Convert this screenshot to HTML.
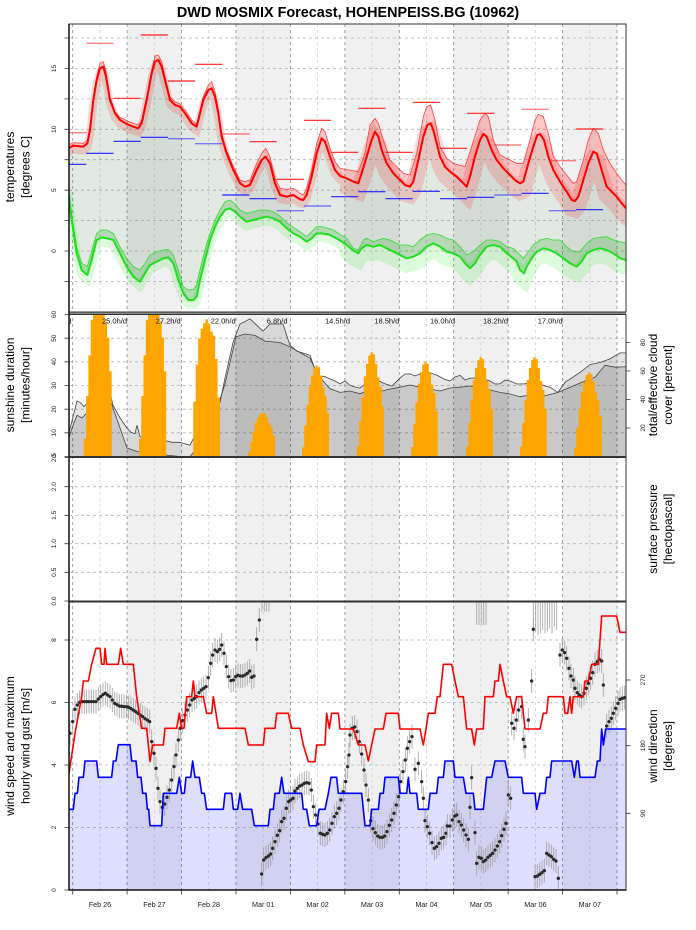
<!DOCTYPE html>
<html><head><meta charset="utf-8">
<style>
html,body{margin:0;padding:0;background:#fff;}
svg{display:block;font-family:"Liberation Sans",Arial,sans-serif;}
</style></head>
<body>
<svg width="696" height="930" viewBox="0 0 696 930" xmlns="http://www.w3.org/2000/svg">
<defs>
 <clipPath id="c1"><rect x="69" y="24" width="557" height="288"/></clipPath>
 <clipPath id="c2"><rect x="69" y="314" width="557" height="142.5"/></clipPath>
 <clipPath id="c4"><rect x="69" y="602" width="557" height="288"/></clipPath>
 <clipPath id="cL"><rect x="60" y="0" width="280" height="930"/></clipPath>
 <clipPath id="cR"><rect x="340" y="0" width="300" height="930"/></clipPath>

 <polygon id="uRT" points="150,445 205,445 220,437 250,440 262,430 270,390 280,300 290,240 300,205 310,200 318,230 330,300 345,340 360,360 380,372 400,380 415,385 425,370 440,300 455,220 465,185 475,180 485,200 500,260 510,300 525,315 540,320 555,340 575,370 590,380 600,340 610,300 625,270 635,265 645,290 655,340 665,410 680,460 700,510 720,550 735,560 750,555 770,510 785,480 797,470 810,490 825,550 840,585 860,590 880,585 900,598 910,600 920,585 935,530 950,460 965,415 975,425 990,470 1005,510 1020,528 1040,535 1060,545 1075,550 1085,520 1100,470 1115,420 1125,395 1135,410 1145,450 1160,490 1180,520 1200,540 1215,555 1230,560 1240,545 1255,480 1270,410 1282,375 1292,370 1300,390 1310,430 1320,470 1335,500 1350,515 1370,530 1390,550 1400,560 1410,530 1425,470 1440,420 1450,402 1460,410 1475,450 1490,480 1510,505 1530,525 1545,540 1560,550 1570,545 1585,490 1600,440 1612,405 1620,402 1632,420 1645,470 1660,510 1680,545 1700,575 1715,600 1725,603 1735,590 1750,540 1765,490 1780,455 1790,460 1805,510 1820,560 1835,575 1850,590 1865,610 1878,625 1890,632 1950,632 1950,1000 150,1000"/>
 <polygon id="uRU" points="150,435 205,435 220,428 250,430 262,420 270,380 280,290 290,230 300,190 310,185 318,215 330,290 345,335 360,352 380,362 400,370 415,375 425,360 440,290 455,210 465,168 475,165 485,185 500,250 510,292 525,305 540,312 555,330 575,360 590,372 600,330 610,290 625,255 635,245 645,275 655,330 665,400 680,452 700,500 720,540 735,545 750,540 770,490 785,460 797,445 810,470 825,535 840,565 860,568 880,565 900,580 910,585 920,565 935,510 950,430 965,385 975,395 990,445 1005,485 1020,505 1075,515 1095,460 1110,375 1125,355 1135,370 1150,420 1170,480 1190,500 1210,520 1230,525 1250,460 1270,350 1280,320 1292,315 1305,360 1320,440 1340,475 1360,490 1395,500 1415,440 1440,360 1455,340 1465,350 1480,420 1500,465 1530,480 1550,490 1570,490 1590,420 1605,360 1615,343 1630,350 1645,400 1660,470 1680,500 1700,525 1720,550 1730,545 1750,480 1765,420 1780,385 1795,400 1810,450 1830,490 1850,520 1865,540 1878,555 1890,562 1950,562 1950,1000 150,1000"/>
 <polygon id="uGT" points="150,570 205,570 215,660 230,760 245,810 262,825 275,780 290,720 305,712 320,715 340,720 360,760 380,800 400,830 420,845 435,820 450,795 470,785 490,775 505,772 520,790 535,840 550,880 565,900 580,900 590,890 600,840 615,780 630,720 645,680 660,650 675,630 690,625 705,635 720,650 740,665 760,660 780,655 800,650 820,655 840,665 860,685 880,700 900,710 920,725 935,715 950,700 965,700 985,703 1000,710 1020,721 1040,735 1060,752 1075,760 1085,745 1100,735 1120,740 1140,735 1160,745 1180,755 1200,765 1220,775 1240,770 1260,760 1280,740 1300,730 1320,740 1340,755 1360,760 1380,770 1395,790 1410,805 1425,790 1440,765 1460,740 1480,735 1500,740 1520,760 1540,775 1550,785 1560,810 1572,820 1580,800 1595,775 1610,755 1630,745 1650,750 1670,760 1690,775 1710,790 1730,800 1745,785 1760,760 1780,750 1800,745 1820,750 1840,760 1860,775 1878,780 1890,782 1950,782 1950,1000 150,1000"/>
 <polygon id="uGU" points="150,565 205,565 215,640 230,740 245,790 262,800 275,755 290,700 305,690 320,690 340,700 360,740 380,775 400,800 420,810 435,790 450,765 470,755 490,750 505,748 520,765 535,810 550,860 565,870 580,868 590,855 600,810 615,750 630,700 645,660 660,630 675,605 690,600 705,612 720,630 740,640 760,635 780,630 800,630 820,635 840,648 860,668 880,682 900,695 920,710 935,695 950,680 965,680 985,685 1000,690 1020,703 1040,715 1060,745 1075,750 1090,720 1100,715 1120,725 1150,715 1170,720 1200,735 1220,735 1240,740 1260,720 1280,705 1300,700 1320,705 1340,715 1360,720 1380,740 1400,765 1420,755 1440,735 1460,720 1480,720 1500,725 1520,740 1540,745 1555,760 1570,775 1585,755 1600,735 1620,720 1640,715 1660,720 1680,720 1700,740 1720,755 1740,755 1760,730 1780,715 1800,712 1820,710 1840,720 1860,725 1878,730 1890,731 1950,731 1950,1000 150,1000"/>

 <mask id="mMain" maskUnits="userSpaceOnUse" x="0" y="0" width="696" height="930">
  <g transform="scale(0.333333)"><use href="#uRT" fill="#fff"/><use href="#uGT" fill="#000"/></g>
 </mask>
 <mask id="mRed" maskUnits="userSpaceOnUse" x="0" y="0" width="696" height="930">
  <g transform="scale(0.333333)"><use href="#uRU" fill="#fff"/><use href="#uRT" fill="#000"/></g>
 </mask>
 <mask id="mGreen" maskUnits="userSpaceOnUse" x="0" y="0" width="696" height="930">
  <g transform="scale(0.333333)"><use href="#uGU" fill="#fff"/><use href="#uGT" fill="#000"/></g>
 </mask>

 <polygon id="bell" points="0,0 0,-.1 1,-.1 1,-.34 2,-.34 2,-.57 3,-.57 3,-.77 4,-.77 4,-.89 5,-.89 5,-.97 6,-.97 6,-1 7,-1 7,-.98 8,-.98 8,-.89 9,-.89 9,-.76 10,-.76 10,-.67 11,-.67 11,-.48 12,-.48 12,0"/>
 <polygon id="bell2" points="0,0 0,-.4 1,-.4 1,-.67 2,-.67 2,-.86 3,-.86 3,-.93 4,-.93 4,-.97 5,-.97 5,-1 6,-1 6,-.97 7,-.97 7,-.91 8,-.91 8,-.88 9,-.88 9,-.71 10,-.71 10,-.43 11,-.43 11,0"/>
 <g id="d"><line x1="0" x2="0" y1="-36" y2="36" stroke="#9a9a9a" stroke-width="2.7" stroke-opacity="0.85"/><circle cx="0" cy="0" r="5" fill="#2a2a2a"/></g>
</defs>

<rect x="0" y="0" width="696" height="930" fill="#fff"/>

<!-- day shading -->
<g fill="#f0f0f0">
 <rect x="127.13" y="24" width="54.43" height="866"/>
 <rect x="235.99" y="24" width="54.43" height="866"/>
 <rect x="344.85" y="24" width="54.43" height="866"/>
 <rect x="453.71" y="24" width="54.43" height="866"/>
 <rect x="562.57" y="24" width="54.43" height="866"/>
</g>

<!-- grid -->
<path d="M99.9,24V890M154.33,24V890M208.76,24V890M263.19,24V890M317.62,24V890M372.05,24V890M426.48,24V890M480.91,24V890M535.34,24V890M589.77,24V890" stroke="#cfcfcf" stroke-width="0.8" stroke-dasharray="3,3" fill="none"/>
<path d="M72.7,24V890M127.13,24V890M181.56,24V890M235.99,24V890M290.42,24V890M344.85,24V890M399.28,24V890M453.71,24V890M508.14,24V890M562.57,24V890M617,24V890" stroke="#8c8c8c" stroke-width="0.8" stroke-dasharray="3,3" fill="none"/>
<path d="M69,281.4H626M69,251H626M69,220.6H626M69,190.2H626M69,159.7H626M69,129.3H626M69,98.9H626M69,68.5H626M69,38H626M69,432.8H626M69,409.2H626M69,385.5H626M69,361.8H626M69,338.2H626M69,486.7H626M69,515.3H626M69,543.7H626M69,572.3H626M69,640H626M69,702.5H626M69,765H626M69,827.5H626" stroke="#b4b4b4" stroke-width="0.8" stroke-dasharray="3,3" fill="none"/>

<!-- ===== Panel 1 temperatures ===== -->
<g clip-path="url(#c1)">
 <rect x="60" y="20" width="580" height="300" fill="rgba(60,100,60,0.15)" mask="url(#mMain)"/>
 <rect x="60" y="20" width="580" height="300" fill="rgba(255,0,0,0.22)" mask="url(#mRed)"/>
 <rect x="60" y="20" width="580" height="300" fill="rgba(0,160,0,0.2)" mask="url(#mGreen)"/>
 <g clip-path="url(#cL)"><g transform="scale(0.333333)">
  <use href="#uRT" fill="none" stroke="rgba(255,0,0,0.15)" stroke-width="24" transform="translate(0,12)"/>
  <use href="#uGT" fill="none" stroke="rgba(0,230,0,0.14)" stroke-width="26" transform="translate(0,13)"/>
 </g></g>
 <g clip-path="url(#cR)"><g transform="scale(0.333333)">
  <use href="#uRT" fill="none" stroke="rgba(255,0,0,0.15)" stroke-width="50" transform="translate(0,25)"/>
  <use href="#uGT" fill="none" stroke="rgba(0,230,0,0.14)" stroke-width="44" transform="translate(0,22)"/>
 </g></g>
 <g transform="scale(0.333333)" fill="none" stroke-linejoin="round">
  <use href="#uGU" stroke="#33dd33" stroke-width="2.4"/>
  <use href="#uRU" stroke="#ff4040" stroke-width="2.4"/>
  <use href="#uGT" stroke="#22dd22" stroke-width="6"/>
  <use href="#uRT" stroke="#ff0000" stroke-width="6"/>
 </g>
 <path d="M113.5,98.3H140.7M140.7,35H167.9M167.9,81H195.1M195.1,64.3H222.3M249.5,141.7H276.7M276.7,179.3H303.9M303.9,120.3H331.1M331.1,152.3H358.3M358.3,108.3H385.5M385.5,152.3H412.7M412.7,102.3H439.9M439.9,148.3H467.1M467.1,113.3H494.3M575.9,129H603.1" stroke="#ff2020" stroke-width="1.2" fill="none"/>
 <path d="M69,132.7H86.3M86.3,43.3H113.5M222.3,134H249.5M494.3,145H521.5M521.5,109.3H548.7M548.7,160.7H575.9" stroke="#ff2020" stroke-opacity="0.55" stroke-width="1.4" fill="none"/>
 <path d="M69,164.3H86.3M86.3,153.3H113.5M113.5,141.3H140.7M140.7,137.3H167.9M222.3,195H249.5M249.5,198.7H276.7M331.1,196.7H358.3M358.3,191.7H385.5M385.5,198.7H412.7M412.7,191.3H439.9M439.9,198.7H467.1M467.1,197.3H494.3M521.5,193.3H548.7M575.9,209.7H603.1" stroke="#2020ff" stroke-width="1.2" fill="none"/>
 <path d="M167.9,138.7H195.1M195.1,143.7H222.3M276.7,210.7H303.9M303.9,206H331.1M494.3,195H521.5M548.7,210.7H575.9" stroke="#2020ff" stroke-opacity="0.55" stroke-width="1.4" fill="none"/>
</g>

<!-- ===== Panel 2 sunshine / cloud ===== -->
<g clip-path="url(#c2)">
 <polygon points="69,432.3 72,420.9 77,400.9 80,402.4 84,406.6 90,399.5 100,392.4 108,383.8 113,405.2 120,418 127,428 131,432.3 135,433.7 137,425.2 140,436.6 150,439.4 160,440.8 166,440.8 172,442.3 180,442.3 185,443.7 190,445.1 196,433.7 205,425.2 215,413.8 220,402.4 225,378.1 233,342.5 240,324 250,318.8 257,325.4 263,331.1 270,324 283,324 290,345.4 297,351.1 310,355.3 317,375.3 325,376.7 335,381 340,383.8 345,381 350,385.3 355,387 360,388.1 365,384 370,381.5 375,379 385,383.8 392,386 400,378.1 405,374 410,373.9 415,376 420,373.9 428,372 437,375.3 444,379 450,381 455,377 460,375.3 465,380 470,378.1 480,378 490,381 495,384 500,383.8 505,380 510,381 517,384 525,383.8 532,382 540,383.8 545,386 550,387.2 558,392.4 565,382.4 580,372.4 590,364.6 600,362.5 610,358.9 620,352.9 627,352.9 627,457 69,457" fill="rgba(0,0,0,0.1)" stroke="#444" stroke-width="0.8"/>
 <polygon points="69,438 72,428 77,415.2 82,418 90,409.5 100,399.5 108,392.4 113,408.1 120,428 127,448 135,450.8 140,452.2 150,453.7 166,455.1 180,456.5 190,456.5 196,449.4 210,420.9 220,399.5 225,383.8 236,336.8 245,334 255,335.4 265,341.1 280,342.5 290,346.8 300,352.5 310,358.2 318,375.3 330,388.8 340,392.4 350,391 360,393.8 370,390 380,391.5 390,389 400,387.2 410,385 420,387.2 430,389 440,391 450,388 460,387.2 470,386 480,388.1 490,390 500,392.4 510,394 520,396.7 530,395 540,396.7 548,395 558,392.4 570,387.2 585,381 595,377.3 605,365.3 615,367.2 627,366.7 627,457 69,457" fill="rgba(0,0,0,0.12)" stroke="#444" stroke-width="0.8"/>
 <g fill="#ffa500">
  <use href="#bell" transform="translate(83.7,456.5) scale(2.333,177.5)"/>
  <use href="#bell" transform="translate(139,456.5) scale(2.27,177.5)"/>
  <use href="#bell2" transform="translate(193.3,456.5) scale(2.43,137.3)"/>
  <use href="#bell" transform="translate(248,456.5) scale(2.25,43.8)"/>
  <use href="#bell" transform="translate(302,456.5) scale(2.25,91.1)"/>
  <use href="#bell" transform="translate(357,456.5) scale(2.25,104.1)"/>
  <use href="#bell" transform="translate(411,456.5) scale(2.225,94.7)"/>
  <use href="#bell" transform="translate(466,456.5) scale(2.25,99.4)"/>
  <use href="#bell" transform="translate(520,456.5) scale(2.225,99.4)"/>
  <use href="#bell" transform="translate(574,456.5) scale(2.31,84)"/>
 </g>
</g>

<!-- ===== Panel 4 wind ===== -->
<g clip-path="url(#c4)">
 <g transform="translate(0,600) scale(0.333333)">
  <polygon points="205,628 220,628 225,580 232,580 237,532 250,532 255,483 290,483 295,532 335,532 340,483 348,483 355,434 390,434 395,483 408,483 413,532 423,532 428,580 438,580 442,628 446,628 450,677 485,677 490,580 530,580 538,532 545,580 553,580 558,532 572,532 578,483 585,532 598,532 605,580 613,580 620,628 670,628 675,580 695,580 700,628 713,628 720,580 728,628 755,628 763,677 805,677 810,628 820,628 825,580 838,580 845,532 852,580 905,580 910,628 920,628 928,677 950,677 957,628 975,628 985,580 993,532 1010,532 1015,580 1085,580 1095,677 1110,677 1115,628 1135,628 1140,580 1150,580 1155,532 1195,532 1200,580 1220,580 1225,532 1230,580 1250,580 1255,628 1285,628 1290,580 1310,580 1315,532 1330,532 1335,483 1360,483 1365,532 1390,532 1398,580 1420,580 1425,628 1450,628 1460,532 1475,532 1485,483 1515,483 1525,532 1565,532 1570,580 1605,580 1610,628 1620,580 1635,580 1640,532 1650,532 1655,483 1715,483 1723,532 1730,483 1735,483 1740,532 1785,532 1792,483 1800,483 1805,387 1810,435 1817,387 1890,387 1890,875 205,875" fill="rgba(0,0,255,0.13)"/>
  <path d="M786,-10V35M793,-10V35M800,-10V35M807,-10V35M1430,-10V75M1437,-10V75M1444,-10V75M1451,-10V75M1458,-10V75M1600,-10V100M1607,-10V95M1614,-10V105M1621,-10V100M1628,-10V90M1635,-10V100M1642,-10V95M1649,-10V85M1656,-10V100M1663,-10V80M1670,-10V90" stroke="#9a9a9a" stroke-width="2.7" stroke-opacity="0.85" fill="none"/>
  <g>
   <use href="#d" x="205" y="460"/><use href="#d" x="210" y="400"/><use href="#d" x="218" y="365"/><use href="#d" x="225" y="328"/><use href="#d" x="232" y="315"/><use href="#d" x="239" y="307"/><use href="#d" x="246" y="305"/><use href="#d" x="253" y="305"/><use href="#d" x="260" y="305"/><use href="#d" x="267" y="305"/><use href="#d" x="274" y="305"/><use href="#d" x="281" y="305"/><use href="#d" x="288" y="305"/><use href="#d" x="295" y="297"/><use href="#d" x="302" y="290"/><use href="#d" x="309" y="284"/><use href="#d" x="316" y="280"/><use href="#d" x="323" y="285"/><use href="#d" x="330" y="290"/><use href="#d" x="337" y="300"/><use href="#d" x="344" y="310"/><use href="#d" x="351" y="314"/><use href="#d" x="358" y="318"/><use href="#d" x="365" y="319"/><use href="#d" x="372" y="320"/><use href="#d" x="379" y="320"/><use href="#d" x="386" y="322"/><use href="#d" x="393" y="326"/><use href="#d" x="400" y="330"/><use href="#d" x="407" y="335"/><use href="#d" x="414" y="340"/><use href="#d" x="421" y="345"/><use href="#d" x="428" y="350"/><use href="#d" x="435" y="356"/><use href="#d" x="442" y="360"/><use href="#d" x="449" y="365"/><use href="#d" x="455" y="425"/><use href="#d" x="462" y="460"/><use href="#d" x="468" y="505"/><use href="#d" x="474" y="565"/><use href="#d" x="480" y="605"/><use href="#d" x="487" y="622"/><use href="#d" x="494" y="612"/><use href="#d" x="501" y="592"/><use href="#d" x="508" y="570"/><use href="#d" x="515" y="540"/><use href="#d" x="522" y="500"/><use href="#d" x="528" y="465"/><use href="#d" x="535" y="420"/><use href="#d" x="541" y="385"/><use href="#d" x="548" y="362"/><use href="#d" x="555" y="345"/><use href="#d" x="562" y="330"/><use href="#d" x="569" y="315"/><use href="#d" x="576" y="300"/><use href="#d" x="583" y="295"/><use href="#d" x="590" y="290"/><use href="#d" x="597" y="278"/><use href="#d" x="604" y="270"/><use href="#d" x="611" y="265"/><use href="#d" x="618" y="260"/><use href="#d" x="625" y="233"/><use href="#d" x="632" y="190"/><use href="#d" x="638" y="165"/><use href="#d" x="645" y="150"/><use href="#d" x="652" y="155"/><use href="#d" x="659" y="148"/><use href="#d" x="665" y="135"/><use href="#d" x="672" y="160"/><use href="#d" x="679" y="200"/><use href="#d" x="686" y="230"/><use href="#d" x="693" y="242"/><use href="#d" x="700" y="240"/><use href="#d" x="707" y="230"/><use href="#d" x="714" y="226"/><use href="#d" x="721" y="228"/><use href="#d" x="728" y="228"/><use href="#d" x="735" y="225"/><use href="#d" x="742" y="220"/><use href="#d" x="749" y="213"/><use href="#d" x="755" y="232"/><use href="#d" x="762" y="228"/><use href="#d" x="770" y="118"/><use href="#d" x="778" y="60"/>
   <use href="#d" x="785" y="822"/><use href="#d" x="791" y="780"/><use href="#d" x="798" y="773"/><use href="#d" x="805" y="768"/><use href="#d" x="812" y="762"/><use href="#d" x="818" y="745"/><use href="#d" x="825" y="725"/><use href="#d" x="832" y="706"/><use href="#d" x="839" y="692"/><use href="#d" x="845" y="665"/><use href="#d" x="852" y="655"/><use href="#d" x="859" y="625"/><use href="#d" x="866" y="605"/><use href="#d" x="872" y="600"/><use href="#d" x="879" y="595"/><use href="#d" x="885" y="573"/><use href="#d" x="892" y="565"/><use href="#d" x="899" y="558"/><use href="#d" x="906" y="555"/><use href="#d" x="913" y="550"/><use href="#d" x="920" y="548"/><use href="#d" x="927" y="550"/><use href="#d" x="934" y="570"/><use href="#d" x="940" y="620"/><use href="#d" x="947" y="645"/><use href="#d" x="954" y="672"/><use href="#d" x="961" y="700"/><use href="#d" x="968" y="703"/><use href="#d" x="975" y="705"/><use href="#d" x="982" y="700"/><use href="#d" x="989" y="690"/><use href="#d" x="996" y="670"/><use href="#d" x="1003" y="650"/><use href="#d" x="1010" y="640"/><use href="#d" x="1017" y="625"/><use href="#d" x="1023" y="600"/><use href="#d" x="1030" y="575"/><use href="#d" x="1037" y="545"/><use href="#d" x="1043" y="500"/><use href="#d" x="1047" y="465"/><use href="#d" x="1050" y="405"/><use href="#d" x="1057" y="385"/><use href="#d" x="1064" y="381"/><use href="#d" x="1071" y="395"/><use href="#d" x="1078" y="425"/><use href="#d" x="1085" y="462"/><use href="#d" x="1092" y="510"/><use href="#d" x="1098" y="555"/><use href="#d" x="1105" y="600"/><use href="#d" x="1112" y="662"/><use href="#d" x="1119" y="686"/><use href="#d" x="1126" y="698"/><use href="#d" x="1133" y="708"/><use href="#d" x="1140" y="712"/><use href="#d" x="1147" y="712"/><use href="#d" x="1154" y="708"/><use href="#d" x="1161" y="695"/><use href="#d" x="1168" y="676"/><use href="#d" x="1175" y="660"/><use href="#d" x="1182" y="640"/><use href="#d" x="1189" y="615"/><use href="#d" x="1196" y="590"/><use href="#d" x="1202" y="545"/><use href="#d" x="1209" y="515"/><use href="#d" x="1216" y="480"/><use href="#d" x="1222" y="445"/><use href="#d" x="1229" y="425"/><use href="#d" x="1236" y="410"/><use href="#d" x="1245" y="508"/><use href="#d" x="1255" y="490"/><use href="#d" x="1265" y="545"/><use href="#d" x="1270" y="595"/><use href="#d" x="1275" y="662"/><use href="#d" x="1282" y="680"/><use href="#d" x="1289" y="700"/><use href="#d" x="1296" y="728"/><use href="#d" x="1303" y="745"/><use href="#d" x="1310" y="740"/><use href="#d" x="1317" y="730"/><use href="#d" x="1324" y="715"/><use href="#d" x="1331" y="712"/><use href="#d" x="1338" y="700"/><use href="#d" x="1342" y="678"/><use href="#d" x="1350" y="678"/><use href="#d" x="1357" y="660"/><use href="#d" x="1364" y="648"/><use href="#d" x="1370" y="645"/><use href="#d" x="1377" y="665"/><use href="#d" x="1384" y="675"/><use href="#d" x="1391" y="690"/><use href="#d" x="1398" y="705"/><use href="#d" x="1405" y="718"/><use href="#d" x="1410" y="622"/><use href="#d" x="1415" y="533"/><use href="#d" x="1425" y="698"/><use href="#d" x="1430" y="790"/><use href="#d" x="1437" y="772"/><use href="#d" x="1444" y="775"/><use href="#d" x="1450" y="785"/><use href="#d" x="1457" y="780"/><use href="#d" x="1464" y="772"/><use href="#d" x="1471" y="766"/><use href="#d" x="1478" y="760"/><use href="#d" x="1485" y="750"/><use href="#d" x="1492" y="738"/><use href="#d" x="1499" y="725"/><use href="#d" x="1505" y="707"/><use href="#d" x="1512" y="688"/><use href="#d" x="1518" y="670"/><use href="#d" x="1525" y="585"/><use href="#d" x="1532" y="595"/>
   <use href="#d" x="1535" y="370"/><use href="#d" x="1542" y="385"/><use href="#d" x="1549" y="360"/><use href="#d" x="1556" y="330"/><use href="#d" x="1565" y="320"/><use href="#d" x="1570" y="418"/><use href="#d" x="1575" y="440"/><use href="#d" x="1585" y="360"/><use href="#d" x="1595" y="243"/><use href="#d" x="1600" y="88"/>
   <use href="#d" x="1605" y="830"/><use href="#d" x="1612" y="828"/><use href="#d" x="1619" y="823"/><use href="#d" x="1626" y="818"/><use href="#d" x="1633" y="812"/><use href="#d" x="1640" y="760"/><use href="#d" x="1647" y="765"/><use href="#d" x="1654" y="770"/><use href="#d" x="1661" y="778"/><use href="#d" x="1668" y="783"/><use href="#d" x="1675" y="835"/>
   <use href="#d" x="1680" y="165"/><use href="#d" x="1687" y="150"/><use href="#d" x="1694" y="158"/><use href="#d" x="1700" y="175"/><use href="#d" x="1707" y="205"/><use href="#d" x="1713" y="228"/><use href="#d" x="1720" y="240"/><use href="#d" x="1725" y="265"/><use href="#d" x="1732" y="278"/><use href="#d" x="1738" y="285"/><use href="#d" x="1745" y="290"/><use href="#d" x="1752" y="280"/><use href="#d" x="1759" y="265"/><use href="#d" x="1765" y="250"/><use href="#d" x="1772" y="235"/><use href="#d" x="1778" y="218"/><use href="#d" x="1785" y="193"/><use href="#d" x="1792" y="185"/><use href="#d" x="1798" y="178"/><use href="#d" x="1805" y="183"/><use href="#d" x="1810" y="255"/><use href="#d" x="1820" y="378"/><use href="#d" x="1827" y="365"/><use href="#d" x="1834" y="355"/><use href="#d" x="1840" y="340"/><use href="#d" x="1847" y="325"/><use href="#d" x="1854" y="310"/><use href="#d" x="1860" y="298"/><use href="#d" x="1867" y="295"/><use href="#d" x="1874" y="293"/><use href="#d" x="1881" y="291"/><use href="#d" x="1888" y="290"/>
  </g>
  <polyline points="205,533 225,400 245,290 250,243 265,243 275,193 288,145 300,145 305,193 312,193 315,145 320,193 355,193 362,145 370,193 400,193 410,290 425,385 440,385 450,485 458,435 490,435 495,385 530,385 538,340 545,385 552,385 560,290 575,290 580,243 585,290 610,290 620,340 635,340 640,290 648,340 655,385 735,385 745,435 790,435 795,385 825,385 830,340 865,340 875,385 900,385 910,435 925,485 945,485 950,435 975,435 980,340 988,385 995,340 1015,340 1020,387 1060,387 1075,435 1095,435 1105,483 1115,435 1125,387 1150,387 1158,340 1195,340 1200,387 1260,387 1270,435 1278,387 1285,340 1305,340 1312,290 1320,290 1330,193 1355,193 1365,243 1375,290 1390,290 1400,387 1415,387 1423,435 1430,387 1450,387 1455,290 1480,290 1485,243 1495,243 1500,193 1510,243 1520,290 1530,290 1540,340 1550,290 1565,290 1570,340 1575,387 1620,387 1630,340 1640,340 1645,290 1690,290 1695,340 1703,340 1710,290 1715,340 1720,290 1750,290 1755,243 1765,243 1775,193 1795,193 1805,48 1850,48 1860,97 1890,97" fill="none" stroke="#ff0000" stroke-width="4.8" stroke-linejoin="round"/>
  <polyline points="205,628 220,628 225,580 232,580 237,532 250,532 255,483 290,483 295,532 335,532 340,483 348,483 355,434 390,434 395,483 408,483 413,532 423,532 428,580 438,580 442,628 446,628 450,677 485,677 490,580 530,580 538,532 545,580 553,580 558,532 572,532 578,483 585,532 598,532 605,580 613,580 620,628 670,628 675,580 695,580 700,628 713,628 720,580 728,628 755,628 763,677 805,677 810,628 820,628 825,580 838,580 845,532 852,580 905,580 910,628 920,628 928,677 950,677 957,628 975,628 985,580 993,532 1010,532 1015,580 1085,580 1095,677 1110,677 1115,628 1135,628 1140,580 1150,580 1155,532 1195,532 1200,580 1220,580 1225,532 1230,580 1250,580 1255,628 1285,628 1290,580 1310,580 1315,532 1330,532 1335,483 1360,483 1365,532 1390,532 1398,580 1420,580 1425,628 1450,628 1460,532 1475,532 1485,483 1515,483 1525,532 1565,532 1570,580 1605,580 1610,628 1620,580 1635,580 1640,532 1650,532 1655,483 1715,483 1723,532 1730,483 1735,483 1740,532 1785,532 1792,483 1800,483 1805,387 1810,435 1817,387 1890,387" fill="none" stroke="#0000ff" stroke-width="4.8" stroke-linejoin="round"/>
 </g>
</g>

<!-- frames & separators -->
<rect x="69" y="312" width="557" height="2.5" fill="#8a8a8a"/>
<rect x="69" y="456.5" width="557" height="1.2" fill="#8a8a8a"/>
<rect x="69" y="600.5" width="557" height="1.7" fill="#8a8a8a"/>
<g fill="none" stroke="#333" stroke-width="1">
 <rect x="69" y="24" width="557" height="288"/>
 <rect x="69" y="314.5" width="557" height="142"/>
 <rect x="69" y="457.5" width="557" height="143.5"/>
 <rect x="69" y="602" width="557" height="288"/>
</g>
<line x1="69" x2="69" y1="24" y2="890.5" stroke="#111" stroke-width="1.5"/>
<line x1="68.5" x2="626.5" y1="890" y2="890" stroke="#111" stroke-width="1.6"/>
<path d="M64.5,281.4H69M64.5,251H69M64.5,220.6H69M64.5,190.2H69M64.5,159.7H69M64.5,129.3H69M64.5,98.9H69M64.5,68.5H69M64.5,38H69M64.5,456.5H69M64.5,432.8H69M64.5,409.2H69M64.5,385.5H69M64.5,361.8H69M64.5,338.2H69M64.5,314.5H69M64.5,457.5H69M64.5,486.7H69M64.5,515.3H69M64.5,543.7H69M64.5,572.3H69M64.5,601H69M64.5,890H69M64.5,827.5H69M64.5,765H69M64.5,702.5H69M64.5,640H69M626,428H630.5M626,399.5H630.5M626,371H630.5M626,342.5H630.5M626,813.3H630.5M626,745.7H630.5M626,680H630.5M72.7,890V894.5M127.13,890V894.5M181.56,890V894.5M235.99,890V894.5M290.42,890V894.5M344.85,890V894.5M399.28,890V894.5M453.71,890V894.5M508.14,890V894.5M562.57,890V894.5M617,890V894.5" stroke="#333" stroke-width="0.8" fill="none"/>

<text x="348" y="17" text-anchor="middle" font-size="14.4" font-weight="bold" fill="#000">DWD MOSMIX Forecast, HOHENPEISS.BG (10962)</text>

<g font-size="12" fill="#000" text-anchor="middle">
 <text transform="translate(14,167) rotate(-90)">temperatures</text>
 <text transform="translate(29.5,167) rotate(-90)">[degrees C]</text>
 <text transform="translate(14,385) rotate(-90)">sunshine duration</text>
 <text transform="translate(29.5,385) rotate(-90)">[minutes/hour]</text>
 <text transform="translate(14,746) rotate(-90)">wind speed and maximum</text>
 <text transform="translate(29.5,746) rotate(-90)">hourly wind gust [m/s]</text>
 <text transform="translate(657,385) rotate(-90)">total/effective cloud</text>
 <text transform="translate(672,385) rotate(-90)">cover [percent]</text>
 <text transform="translate(657,529) rotate(-90)">surface pressure</text>
 <text transform="translate(672,529) rotate(-90)">[hectopascal]</text>
 <text transform="translate(657,746) rotate(-90)">wind direction</text>
 <text transform="translate(672,746) rotate(-90)">[degrees]</text>
</g>

<g font-size="6.6" fill="#222" text-anchor="middle">
 <text transform="translate(56,251) rotate(-90)">0</text>
 <text transform="translate(56,190.2) rotate(-90)">5</text>
 <text transform="translate(56,129.3) rotate(-90)">10</text>
 <text transform="translate(56,68.5) rotate(-90)">15</text>

 <text transform="translate(56,314.5) rotate(-90)">60</text>
 <text transform="translate(56,338.2) rotate(-90)">50</text>
 <text transform="translate(56,361.8) rotate(-90)">40</text>
 <text transform="translate(56,385.5) rotate(-90)">30</text>
 <text transform="translate(56,409.2) rotate(-90)">20</text>
 <text transform="translate(56,432.8) rotate(-90)">10</text>
 <text transform="translate(56,456) rotate(-90)">0</text>

 <text transform="translate(645,428) rotate(-90)">20</text>
 <text transform="translate(645,399.5) rotate(-90)">40</text>
 <text transform="translate(645,371) rotate(-90)">60</text>
 <text transform="translate(645,342.5) rotate(-90)">80</text>

 <text transform="translate(56,457.5) rotate(-90)">2.5</text>
 <text transform="translate(56,486.7) rotate(-90)">2.0</text>
 <text transform="translate(56,515.3) rotate(-90)">1.5</text>
 <text transform="translate(56,543.7) rotate(-90)">1.0</text>
 <text transform="translate(56,572.3) rotate(-90)">0.5</text>
 <text transform="translate(56,601) rotate(-90)">0.0</text>

 <text transform="translate(56,890) rotate(-90)">0</text>
 <text transform="translate(56,827.5) rotate(-90)">2</text>
 <text transform="translate(56,765) rotate(-90)">4</text>
 <text transform="translate(56,702.5) rotate(-90)">6</text>
 <text transform="translate(56,640) rotate(-90)">8</text>

 <text transform="translate(645,813.3) rotate(-90)">90</text>
 <text transform="translate(645,745.7) rotate(-90)">180</text>
 <text transform="translate(645,680) rotate(-90)">270</text>
</g>

<g font-size="7.5" fill="#111" clip-path="url(#c2)">
 <text x="71.5" y="323.3" text-anchor="end">0.0h/d</text>
 <text x="102" y="323.3">25.0h/d</text>
 <text x="155.7" y="323.3">27.2h/d</text>
 <text x="210.7" y="323.3">22.0h/d</text>
 <text x="266.7" y="323.3">6.8h/d</text>
 <text x="325" y="323.3">14.5h/d</text>
 <text x="374.3" y="323.3">18.5h/d</text>
 <text x="430" y="323.3">16.0h/d</text>
 <text x="483" y="323.3">18.2h/d</text>
 <text x="537.7" y="323.3">17.0h/d</text>
</g>

<g font-size="7.2" fill="#222" text-anchor="middle">
 <text x="100" y="907">Feb 26</text>
 <text x="154.4" y="907">Feb 27</text>
 <text x="208.8" y="907">Feb 28</text>
 <text x="263.2" y="907">Mar 01</text>
 <text x="317.6" y="907">Mar 02</text>
 <text x="372.1" y="907">Mar 03</text>
 <text x="426.5" y="907">Mar 04</text>
 <text x="481" y="907">Mar 05</text>
 <text x="535.4" y="907">Mar 06</text>
 <text x="589.8" y="907">Mar 07</text>
</g>
</svg>
</body></html>
